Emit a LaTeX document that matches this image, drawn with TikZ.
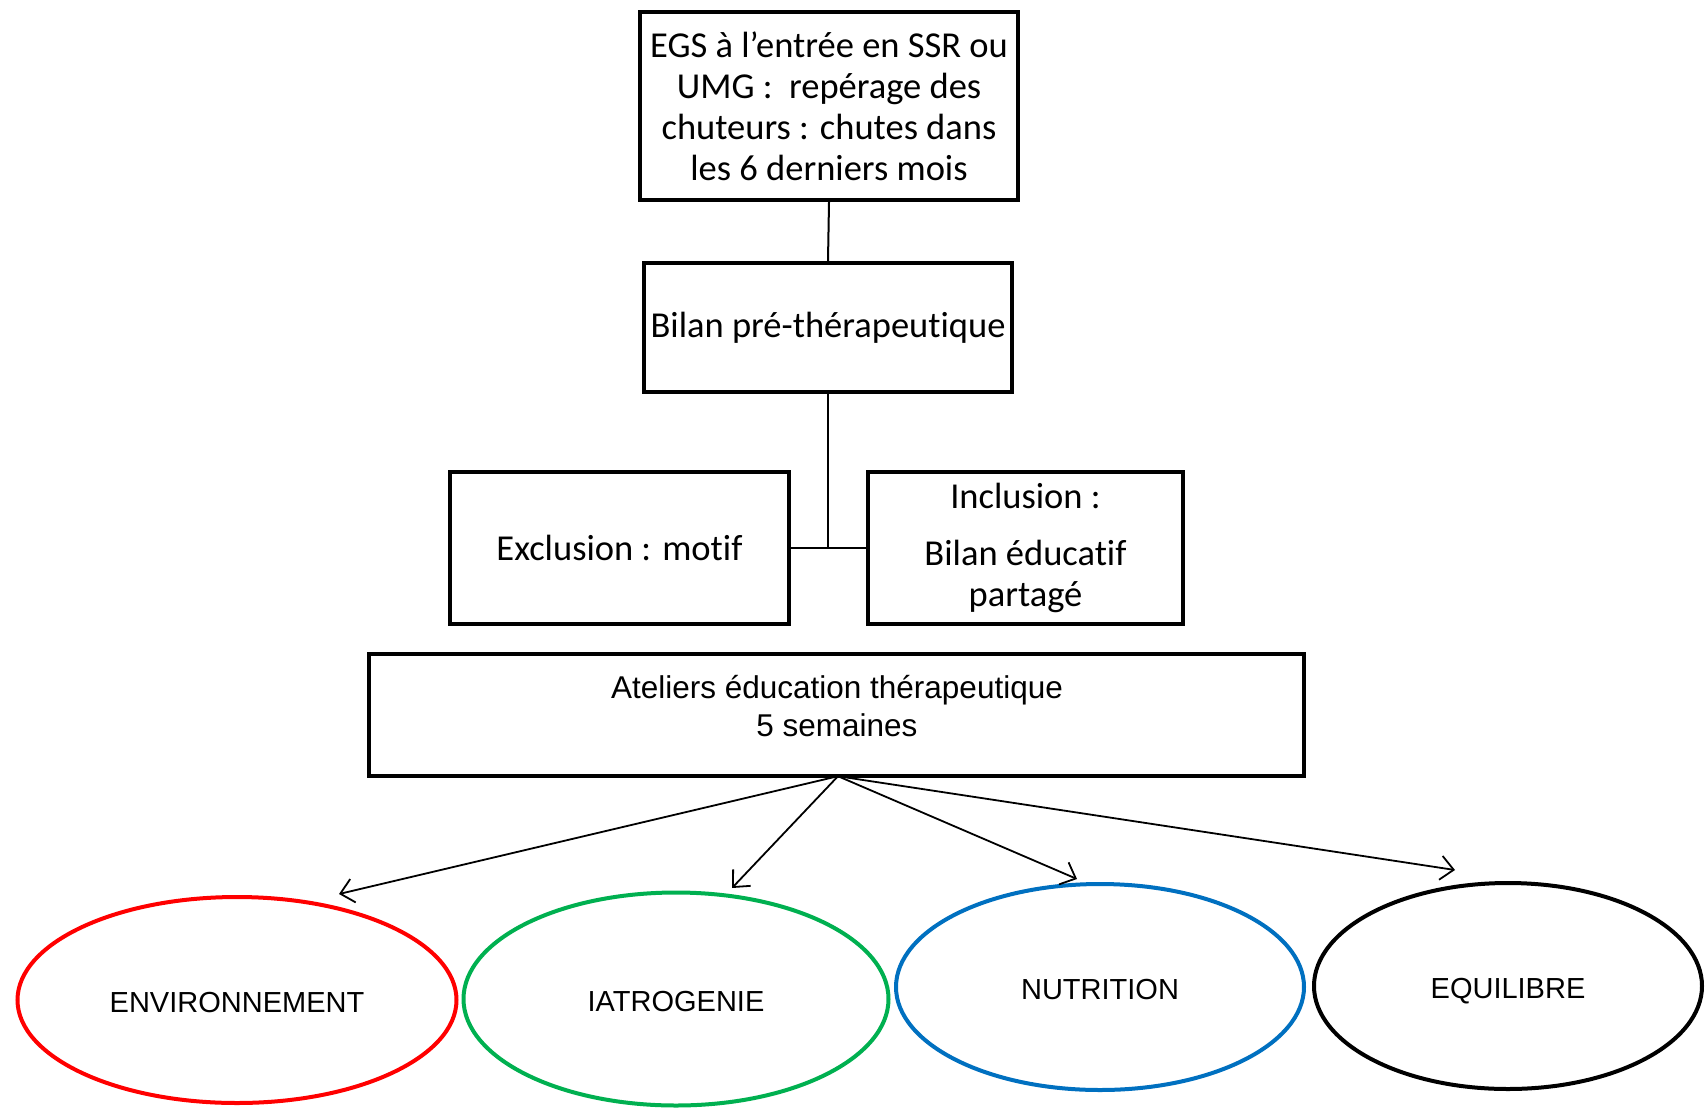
\documentclass[tikz,border=0pt]{standalone}
\usepackage{fontspec}
\setmainfont[Ligatures={NoCommon,NoContextual},Contextuals=NoAlternate]{Carlito}
\newfontfamily\arialf{Liberation Sans}
\usetikzlibrary{shapes.geometric,arrows.meta}
\definecolor{ered}{RGB}{255,0,0}
\definecolor{egreen}{RGB}{0,176,80}
\definecolor{eblue}{RGB}{0,112,192}
\newcommand{\tIx}{t\kern0pt i}
\tikzset{
  boxx/.style={draw, line width=4.4pt, rectangle, inner sep=0pt, align=center,
    font=\fontsize{36.5}{41}\selectfont},
  ell/.style={draw, ellipse, line width=4pt, inner sep=0pt,
    text height=24.5pt, text depth=0pt,
    minimum width=439pt, minimum height=206pt,
    font=\arialf\fontsize{29}{34}\selectfont},
  conn/.style={line width=2pt},
  arr/.style={line width=1.8pt, -{Straight Barb[length=13pt,width=24pt]}}
}
\begin{document}
\begin{tikzpicture}[x=1pt,y=-1pt]
\useasboundingbox[fill=white] (0,0) rectangle (1706,1109);
\node[boxx, minimum width=378pt, minimum height=188pt] (egs) at (829,106)
  {EGS à l’entrée en SSR ou\\UMG :\ \ repérage des\\chuteurs : chutes dans\\les 6 derniers mois};
\node[boxx, minimum width=368pt, minimum height=129pt] (bilan) at (828,327.5)
  {Bilan pré-thérapeu\tIx que};
\node[boxx, minimum width=339pt, minimum height=152pt] (excl) at (619.5,548)
  {Exclusion : motif};
\node[boxx, minimum width=315pt, minimum height=152pt] (incl) at (1025.5,548)
  {Inclusion :\\[16pt]Bilan éduca\tIx f\\partagé};
\node[draw, line width=4.4pt, rectangle, minimum width=935pt, minimum height=122pt] (atel) at (836.5,715) {};
\node[font=\arialf\fontsize{31.5}{38}\selectfont, align=center] (ateltxt) at (837,706)
  {Ateliers éducation thérapeutique\\5 semaines};
\node[ell, draw=ered, minimum width=439pt, minimum height=206pt] (env) at (237,1000) {ENVIRONNEMENT};
\node[ell, draw=egreen, minimum width=425pt, minimum height=213pt] (iat) at (676,999) {IATROGENIE};
\node[ell, draw=eblue, minimum width=408pt, minimum height=206pt] (nut) at (1100,987) {NUTRITION};
\node[ell, draw=black, minimum width=388pt, minimum height=206pt] (equ) at (1508,986) {EQUILIBRE};
\draw[conn] (egs.south) -- (bilan.north);
\draw[conn] (bilan.south) -- (bilan.south |- excl.east);
\draw[conn] (excl.east) -- (incl.west);
\coordinate (src) at ([xshift=1.5pt,yshift=2pt]atel.south);
\coordinate (t1) at (339,894);
\coordinate (t2) at (732,888);
\coordinate (t3) at (1077,879);
\coordinate (t4) at (1455,870);
\draw[arr] (src) -- (t1);
\draw[arr] (src) -- (t2);
\draw[arr] (src) -- (t3);
\draw[arr] (src) -- (t4);
\end{tikzpicture}
\end{document}
